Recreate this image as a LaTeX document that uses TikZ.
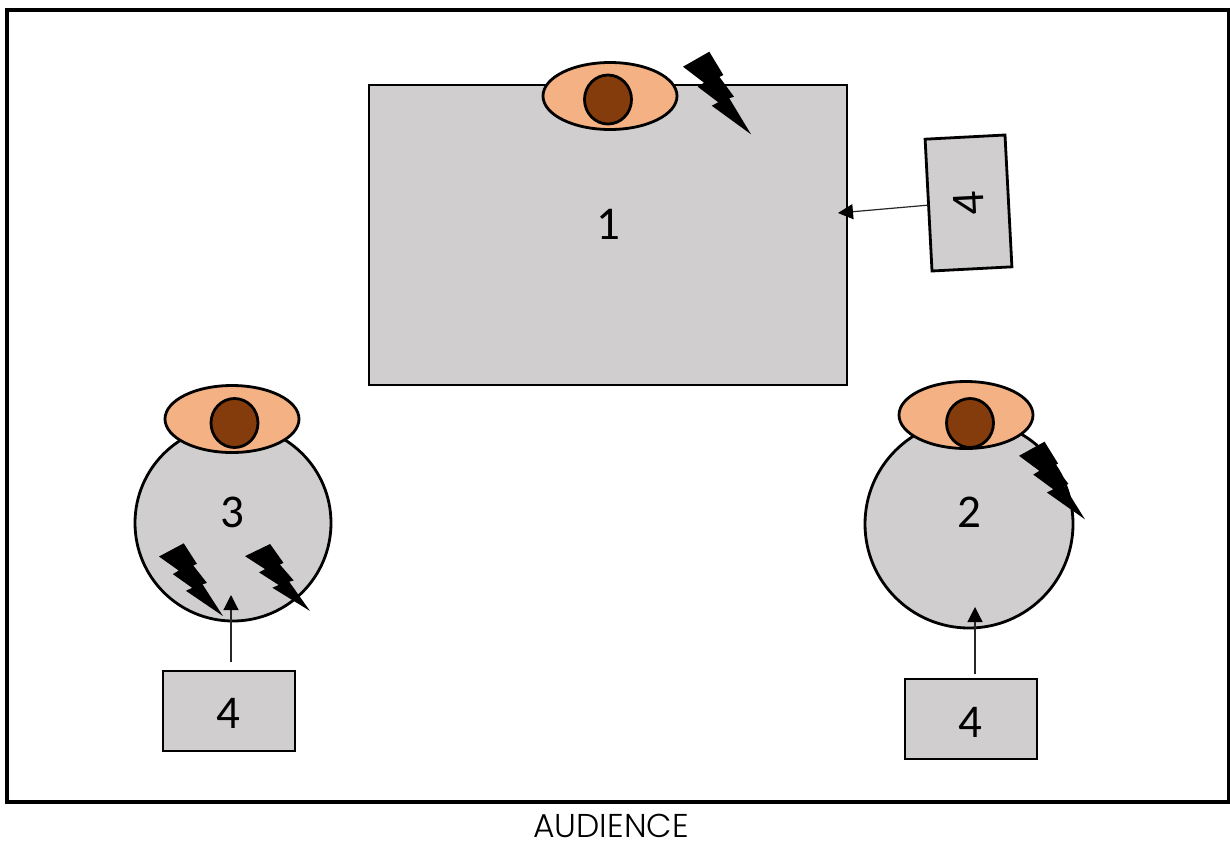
\documentclass[tikz,border=0pt]{standalone}
\usepackage{fontspec}
\setmainfont{Carlito}
\newfontfamily\audfont{Poppins Light}
\usetikzlibrary{arrows.meta,shapes.geometric}
\definecolor{stagegray}{HTML}{D0CECE}
\definecolor{eyeskin}{HTML}{F4B183}
\definecolor{eyebrown}{HTML}{843C0C}
\tikzset{
  x=1pt,y=-1pt,
  outline/.style={draw=black,line width=2.8pt,outer sep=0pt},
  digit/.style={font=\fontsize{47}{47}\selectfont,inner sep=0pt},
  grayshape/.style={outline,fill=stagegray,inner sep=0pt},
  eyeball/.style={outline,fill=eyeskin,ellipse,minimum width=134pt,minimum height=67pt,inner sep=0pt},
  pupil/.style={outline,fill=eyebrown,ellipse,minimum width=47pt,minimum height=49pt,inner sep=0pt},
  pointer/.style={draw=black!85,line width=1.2pt,-{Triangle[length=15pt,width=15pt,color=black]}},
  smallbox/.style={grayshape,minimum width=132pt,minimum height=80pt},
  bolt/.pic={\fill[black] (0,15) -- (26.3,0) -- (40.3,23.3) -- (36.5,25.3) -- (51,45) -- (46.3,46.6)
     -- (68,82.6) -- (28.7,54) -- (35.3,50.6) -- (14.7,35) -- (21,31) -- cycle;}
}
\begin{document}
\begin{tikzpicture}
\useasboundingbox (0,0) rectangle (1230,844);
\fill[white] (0,0) rectangle (1230,844);
\node[draw=black,line width=3.2pt,outer sep=0pt,fill=white,minimum width=1222pt,minimum height=792pt,inner sep=0pt,anchor=north west] (frame) at (7,10) {};
\node[font=\audfont\fontsize{33}{34}\selectfont,inner sep=0pt] (aud) at (611,826) {AUDIENCE};

% performer 1
\node[grayshape,minimum width=478pt,minimum height=300pt] (one) at (608,235) {};
\node[digit] (onel) at (608,224) {1};
\node[eyeball] (eyeone) at (610,96) {};
\node[pupil] (pupone) at (608,99.5) {};
\pic at (683,51.7) {bolt};

% performer 3
\node[grayshape,circle,minimum size=196pt] (three) at (233,523) {};
\node[digit] (threel) at (232,512) {3};
\node[eyeball] (eyethree) at (232,419) {};
\node[pupil] (pupthree) at (234.5,423) {};
\begin{scope}[shift={(159,543.3)},xscale=0.94,yscale=0.88]
\pic[transform shape] {bolt};
\end{scope}
\begin{scope}[shift={(245,544)},xscale=0.955,yscale=0.81]
\pic[transform shape] {bolt};
\end{scope}

% performer 2
\node[grayshape,circle,minimum size=208pt] (two) at (969,524) {};
\node[digit] (twol) at (969,512) {2};
\node[eyeball] (eyetwo) at (966,415) {};
\node[pupil] (puptwo) at (970,423) {};
\begin{scope}[shift={(1019,441.7)},xscale=0.97,yscale=0.94]
\pic[transform shape] {bolt};
\end{scope}

% boxes 4
\node[smallbox] (boxthree) at (229,711) {};
\node[digit] (boxthreel) at (228,713) {4};
\node[smallbox] (boxtwo) at (971,719) {};
\node[digit] (boxtwol) at (970,722) {4};
\node[grayshape,digit,minimum width=132pt,minimum height=80pt,rotate=93] (boxone) at (968.5,203) {4};

% connectors
\coordinate (tipone) at (838,213);
\coordinate (tipthree) at (231,595);
\coordinate (tiptwo) at (975,607);
\draw[pointer] (boxone.north) -- (tipone);
\draw[pointer,shorten <=9pt] (tipthree |- boxthree.north) -- (tipthree);
\draw[pointer,shorten <=5pt] (tiptwo |- boxtwo.north) -- (tiptwo);
\end{tikzpicture}
\end{document}
